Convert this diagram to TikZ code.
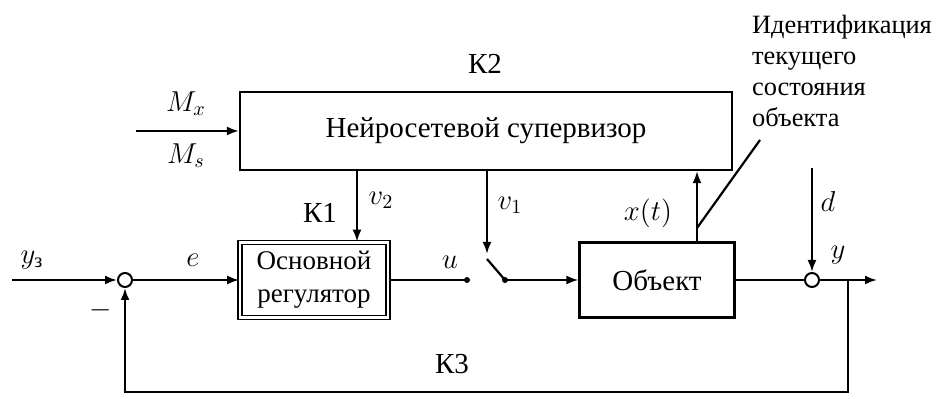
\documentclass[tikz,border=0pt]{standalone}
\usepackage{fontspec}
\setmainfont{Liberation Serif}
\usepackage{amsmath}
\usepackage{tikz}
\usetikzlibrary{arrows.meta,positioning,calc}
\tikzstyle{arrow} = [->,>={Latex[length=6pt,width=4.5pt]}]
\tikzstyle{block} = [draw, line width=1.1pt, inner sep=0pt, align=center]
\tikzstyle{sumnode} = [draw, circle, line width=1pt, minimum size=7pt, inner sep=0pt]

\begin{document}
\begin{tikzpicture}[x=0.5pt,y=-0.5pt,line width=1.1pt,font=\fontsize{14.5}{15.5}\selectfont]
                \useasboundingbox (0,0) rectangle (948,399);
                % blocks
                \node[block, minimum width=246pt, minimum height=39pt] (sup) at (486,131) {Нейросетевой супервизор};
                \node[block, line width=0.8pt, double, double distance=1.2pt, minimum width=74pt, minimum height=37.5pt, font=\fontsize{13.5}{16.5}\selectfont] (reg) at (314,280) {Основной\\регулятор};
                \node[block, minimum width=77.5pt, minimum height=37.5pt] (obj) at (657,280) {Объект};
                \node[sumnode] (s1) at (125,280) {};
                \node[sumnode] (s2) at (812,280) {};
                % points
                \coordinate (in) at (12,280);
                \coordinate (min) at (136,131);
                \coordinate (swL) at (467,280);
                \coordinate (swR) at (505,280);
                \coordinate (swT) at (487,259);
                \coordinate (v1end) at (487,254);
                \coordinate (v2x) at (357,0);
                \coordinate (xtx) at (697,0);
                \coordinate (idA) at (697,228);
                \coordinate (idB) at (760,140);
                \coordinate (dtop) at (812,168);
                \coordinate (br) at (848,280);
                \coordinate (out) at (877,280);
                \coordinate (fby) at (0,392);
                % connectors
                \draw[arrow] (in) -- (s1.west);
                \draw[arrow] (s1.east) -- (reg.west);
                \draw (reg.east) -- (swL);
                \draw (swR) -- (swT);
                \draw[arrow] (swR) -- (obj.west);
                \draw (obj.east) -- (s2.west);
                \draw[arrow] (s2.east) -- (out);
                \draw[arrow] (br) -- (br |- fby) -- (s1 |- fby) -- (s1.south);
                \draw[arrow] (min) -- (min -| sup.west);
                \draw[arrow] (sup.south -| v2x) -- (reg.north -| v2x);
                \draw[arrow] (v1end |- sup.south) -- (v1end);
                \draw[arrow] (obj.north -| xtx) -- (sup.south -| xtx);
                \draw (idA) -- (idB);
                \draw[arrow] (dtop) -- (s2.north);
                \fill (swL) circle (1.5pt);
                \fill (swR) circle (1.5pt);
                % labels
                \node (k2) at (485,64) {К2};
                \node (k1) at (320,213) {К1};
                \node (k3) at (452,364) {К3};
                \node (lv2) at (381,200) {$v_2$};
                \node (lv1) at (510,205) {$v_1$};
                \node (lxt) at (648,213) {$x(t)$};
                \node (ld) at (828,202) {$d$};
                \node (ly) at (838,255) {$y$};
                \node (lu) at (450,262) {$u$};
                \node (le) at (193,260) {$e$};
                \node (lyz) at (32,260) {$y_\text{з}$};
                \node (lmx) at (186,104) {$M_x$};
                \node (lms) at (186,156) {$M_s$};
                \node (lminus) at (101,310) {$-$};
                \node[anchor=north west, align=left, inner sep=0pt, font=\fontsize{13.2}{15.5}\selectfont] (ident) at (751,14) {Идентификация\\текущего\\состояния\\объекта};
            \end{tikzpicture}
\end{document}
